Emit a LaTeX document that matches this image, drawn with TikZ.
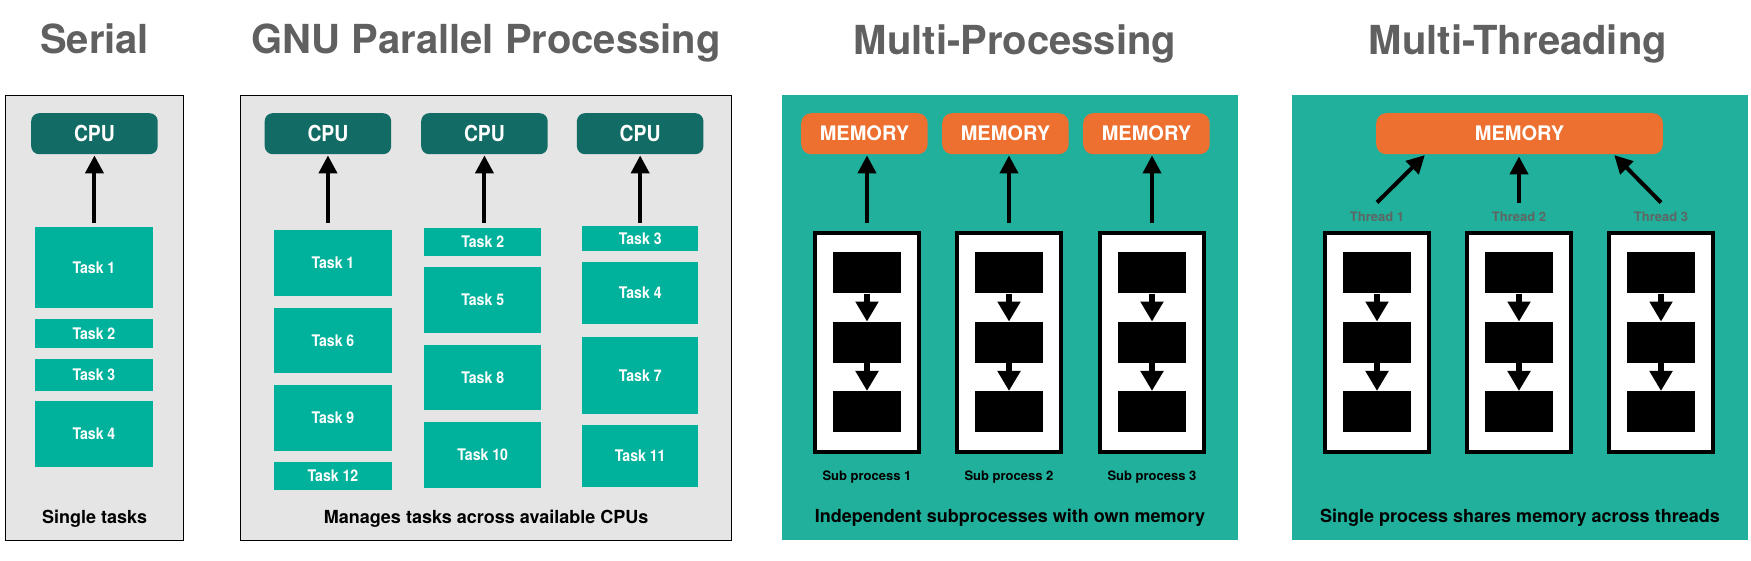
\documentclass[tikz,border=0pt]{standalone}
\usepackage{fontspec}
\setmainfont{TeX Gyre Heros}
\newfontfamily\narrowheros[FakeStretch=0.88]{TeX Gyre Heros}
\usetikzlibrary{positioning,arrows.meta}

\definecolor{panelgray}{HTML}{E5E5E5}
\definecolor{tealbg}{HTML}{20B09C}
\definecolor{taskteal}{HTML}{00B19C}
\definecolor{cputeal}{HTML}{126C65}
\definecolor{memorange}{HTML}{EE7030}
\definecolor{titlegray}{HTML}{606060}
\definecolor{threadgray}{HTML}{5E6663}

\begin{document}
\begin{tikzpicture}[x=1pt, y=-1pt, font=\bfseries,
  feed/.style={line width=4pt, -{Triangle[width=18pt,length=18pt]}},
  flow/.style={line width=6pt, -{Triangle[width=22pt,length=20pt]}},
  title/.style={font=\fontsize{40}{40}\selectfont\bfseries, text=titlegray, inner sep=0pt, anchor=base},
  graypanel/.style={draw, line width=1.2pt, fill=panelgray, anchor=north west, inner sep=0pt},
  tealpanel/.style={fill=tealbg, anchor=north west, inner sep=0pt},
  caption/.style={font=\fontsize{18}{18}\selectfont\bfseries, inner sep=0pt},
  cpu/.style={fill=cputeal, rounded corners=8pt, text=white, minimum width=126.5pt,
    minimum height=41pt, anchor=north west, inner sep=0pt,
    font=\narrowheros\fontsize{22}{22}\selectfont\bfseries},
  task/.style={fill=taskteal, text=white, anchor=north west, inner sep=0pt,
    font=\narrowheros\fontsize{16}{16}\selectfont\bfseries},
  mem/.style={fill=memorange, rounded corners=10pt, text=white, minimum height=41pt,
    anchor=north west, inner sep=0pt, font=\fontsize{20}{20}\selectfont\bfseries},
  proc/.style={draw, line width=4pt, fill=white, minimum width=104pt, minimum height=219.5pt, inner sep=0pt},
  blk/.style={fill=black, minimum width=68pt, minimum height=41pt, inner sep=0pt},
  sublabel/.style={font=\fontsize{13}{13}\selectfont\bfseries, inner sep=0pt},
  threadlabel/.style={font=\fontsize{13}{13}\selectfont\bfseries, text=threadgray, inner sep=0pt}]
\useasboundingbox (0,0) rectangle (1751,560);

% panels
\node[graypanel, minimum width=178pt, minimum height=445.5pt] (serialbox) at (5,94.5) {};
\node[graypanel, minimum width=491pt, minimum height=445.5pt] (gnubox) at (240,94.5) {};
\node[tealpanel, minimum width=455.5pt, minimum height=445pt] (mpbox) at (782,95) {};
\node[tealpanel, minimum width=455.5pt, minimum height=445pt] (mtbox) at (1292,95) {};

% titles and captions
\node[title] (serialttl) at ([yshift=41pt]serialbox.north) {Serial};
\node[title] (gnuttl) at ([yshift=41pt]gnubox.north) {GNU Parallel Processing};
\node[title] (mpttl) at ([xshift=5pt,yshift=40.5pt]mpbox.north) {Multi-Processing};
\node[title] (mtttl) at ([xshift=-2pt,yshift=40.5pt]mtbox.north) {Multi-Threading};
\node[caption, above=14pt of serialbox.south] (serialcap) {Single tasks};
\node[caption, above=14pt of gnubox.south] (gnucap) {Manages tasks across available CPUs};
\node[caption, above=13.5pt of mpbox.south] (mpcap) {Independent subprocesses with own memory};
\node[caption, above=13.5pt of mtbox.south] (mtcap) {Single process shares memory across threads};

% serial
\node[cpu] (scpu) at (31,113) {CPU};
\foreach \n/\y/\h in {1/227/81, 2/319/28.5, 3/359/31.5, 4/401/65.5}
  \node[task, minimum width=117.5pt, minimum height=\h pt] (st\n) at (35,\y) {Task \n};
\draw[feed, shorten <=4.5pt, shorten >=1pt] (scpu |- st1.north) -- (scpu.south);

% gnu parallel
\foreach \i/\x in {1/264.5, 2/421, 3/576.7}
  \node[cpu] (gcpu\i) at (\x,113) {CPU};
\foreach \n/\x/\y/\w/\h in {1/274/230/117.5/66, 6/274/307.6/117.5/65.4, 9/274/385/117.5/65.5,
    12/274/462/117.5/27.6, 2/424/228/117/28, 5/424/267/117/66, 8/424/344.6/117/65.4,
    10/424/422/117/66, 3/582/226/116/25, 4/582/262/116/62, 7/582/336.7/116/77.3, 11/582/425/116/62}
  \node[task, minimum width=\w pt, minimum height=\h pt] (gt\n) at (\x,\y) {Task \n};
\draw[feed, shorten <=7pt, shorten >=1pt] (gcpu1 |- gt1.north) -- (gcpu1.south);
\draw[feed, shorten <=5pt, shorten >=1pt] (gcpu2 |- gt2.north) -- (gcpu2.south);
\draw[feed, shorten <=3pt, shorten >=1pt] (gcpu3 |- gt3.north) -- (gcpu3.south);

% multi-processing
\foreach \i/\x in {1/801, 2/942, 3/1083}
  \node[mem, minimum width=126.5pt] (mpmem\i) at (\x,113) {MEMORY};
\foreach \i/\x in {1/867, 2/1009, 3/1152} {
  \node[proc] (mp\i) at (\x,342.25) {};
  \node[blk] (mp\i-b) at (mp\i) {};
  \node[blk, above=28pt of mp\i-b] (mp\i-a) {};
  \node[blk, below=28pt of mp\i-b] (mp\i-c) {};
  \draw[flow] (mp\i-a) -- (mp\i-b);
  \draw[flow] (mp\i-b) -- (mp\i-c);
  \node[sublabel, below=17pt of mp\i] (sub\i) {Sub process \i};
  \draw[feed, shorten <=7.5pt, shorten >=1pt] (mp\i.north) -- (mp\i |- mpmem\i.south);
}

% multi-threading
\node[mem, minimum width=286.7pt] (mtmem) at (1376,113) {MEMORY};
\foreach \i/\x in {1/1377, 2/1519, 3/1661} {
  \node[proc] (mt\i) at (\x,342.25) {};
  \node[blk] (mt\i-b) at (mt\i) {};
  \node[blk, above=28pt of mt\i-b] (mt\i-a) {};
  \node[blk, below=28pt of mt\i-b] (mt\i-c) {};
  \draw[flow] (mt\i-a) -- (mt\i-b);
  \draw[flow] (mt\i-b) -- (mt\i-c);
  \node[threadlabel, above=9pt of mt\i] (th\i) {Thread \i};
}
\draw[feed, shorten >=1pt] ([yshift=9pt]th1.north) -- ([xshift=-94pt]mtmem.south);
\draw[feed, shorten >=2pt] ([yshift=9pt]th2.north) -- (th2 |- mtmem.south);
\draw[feed, shorten >=1pt] ([yshift=9pt]th3.north) -- ([xshift=94pt]mtmem.south);
\end{tikzpicture}
\end{document}
